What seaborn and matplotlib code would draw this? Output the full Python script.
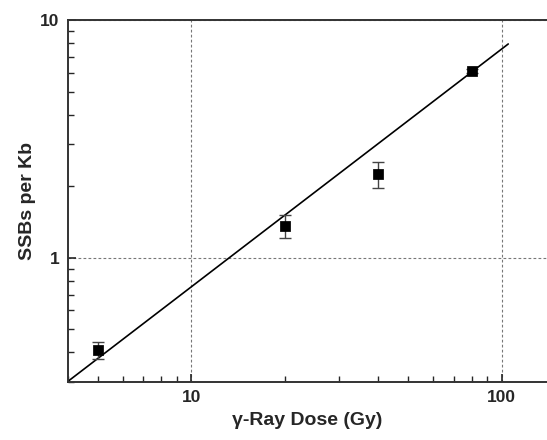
import numpy as np
import pandas as pd
import matplotlib
matplotlib.use("Agg")
import matplotlib.pyplot as plt
from matplotlib.ticker import LogLocator, NullFormatter, FixedLocator, FixedFormatter
import seaborn as sns

# %% data
dose = [5, 20, 40, 80]                 # Gy
ssb = [0.41, 1.36, 2.25, 6.1]          # SSBs per Kb
ssb_err = [0.034, 0.15, 0.28, 0.12]

# linear fit through origin, y = k * x
fit_slope = 0.0755
fit_dose = [3.5, 105]

df = pd.DataFrame({"dose": dose, "ssb": ssb, "err": ssb_err})
fit_x = np.array(fit_dose)
fit_df = pd.DataFrame({"dose": fit_x, "ssb": fit_slope * fit_x})

# %%
sns.set_style("ticks")
plt.rcParams["font.family"] = ["Liberation Sans", "DejaVu Sans"]
plt.rcParams["font.weight"] = "bold"

fig = plt.figure(figsize=(5.47, 4.4), dpi=100)
ax = fig.add_axes([68 / 547, 58 / 440, 479 / 547, 362 / 440])

ax.set_xscale("log")
ax.set_yscale("log")

sns.lineplot(data=fit_df, x="dose", y="ssb", color="black", lw=1.2, ax=ax)
ax.errorbar(df["dose"], df["ssb"], yerr=df["err"], fmt="none",
            ecolor="#444444", elinewidth=1, capsize=4, capthick=1, zorder=3)
sns.scatterplot(data=df, x="dose", y="ssb", marker="s", s=45, color="black",
                edgecolor="black", zorder=4, ax=ax)

ax.set_xlim(4, 140)
ax.set_ylim(0.3, 10)

ax.xaxis.set_major_locator(FixedLocator([10, 100]))
ax.xaxis.set_major_formatter(FixedFormatter(["10", "100"]))
ax.yaxis.set_major_locator(FixedLocator([1, 10]))
ax.yaxis.set_major_formatter(FixedFormatter(["1", "10"]))
ax.xaxis.set_minor_locator(LogLocator(base=10, subs=np.arange(2, 10)))
ax.yaxis.set_minor_locator(LogLocator(base=10, subs=np.arange(2, 10)))
ax.xaxis.set_minor_formatter(NullFormatter())
ax.yaxis.set_minor_formatter(NullFormatter())

ax.tick_params(which="major", direction="in", length=6, width=1.2,
               labelsize=12.5, pad=6)
ax.tick_params(which="minor", direction="in", length=4, width=1)
ax.tick_params(top=False, right=False, which="both")

ax.grid(which="major", color="#777777", linestyle=(0, (2.5, 2)), lw=0.8)

for side in ["left", "bottom", "top"]:
    ax.spines[side].set_linewidth(1.4)
    ax.spines[side].set_color("#333333")
ax.spines["right"].set_visible(False)

ax.set_xlabel("γ-Ray Dose (Gy)", fontsize=14, fontweight="bold", labelpad=5)
ax.set_ylabel("SSBs per Kb", fontsize=14, fontweight="bold", labelpad=3)

fig.savefig("out.png", dpi=100)
